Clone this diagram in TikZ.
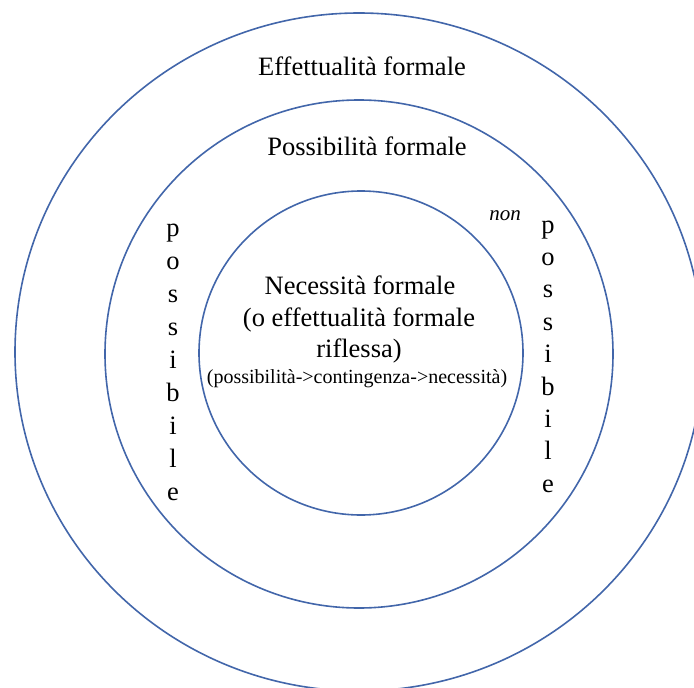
\documentclass[tikz,border=0pt]{standalone}
\usepackage{fontspec}
\setmainfont{Liberation Serif}
\definecolor{ringblue}{RGB}{66,102,170}
\begin{document}
\begin{tikzpicture}[x=1pt,y=-1pt,
  ring/.style={draw=ringblue, line width=1.6pt},
  big/.style={font=\fontsize{26.5}{31}\selectfont, inner sep=0pt, anchor=base},
  small/.style={font=\fontsize{20}{24}\selectfont, inner sep=0pt, anchor=base},
  nonlbl/.style={font=\fontsize{21}{24}\selectfont\itshape, inner sep=0pt, anchor=base}]
\useasboundingbox (0,0) rectangle (694,688);
\clip (0,0) rectangle (694,688);
\draw[ring] (359,352) ellipse [x radius=344, y radius=339];
\draw[ring] (359,354) circle [radius=254];
\draw[ring] (361,353) circle [radius=162];
\node[big] (eff) at (362,75) {Effettualità formale};
\node[big] (pos) at (367,155) {Possibilità formale};
\node[big] (nec1) at (360,294) {Necessità formale};
\node[big] (nec2) at (359,326) {(o effettualità formale};
\node[big] (nec3) at (359,357) {riflessa)};
\node[small] (nec4) at (357,383) {(possibilità->contingenza->necessità)};
\node[nonlbl] (non) at (505,220) {non};
\foreach \c [count=\i] in {p,o,s,s,i,b,i,l,e} {
  \node[big] (L\i) at (173,{236+33*(\i-1)}) {\c};
  \node[big] (R\i) at (548,{233+32.4*(\i-1)}) {\c};
}
\end{tikzpicture}
\end{document}
